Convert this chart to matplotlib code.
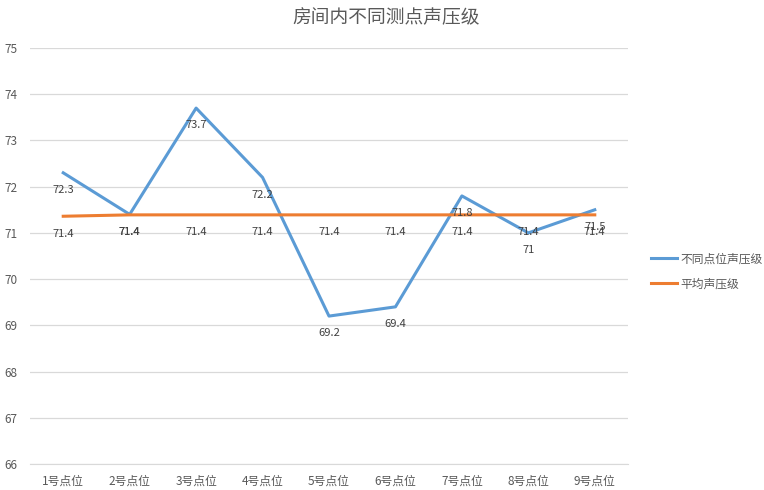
import numpy as np
import matplotlib.pyplot as plt

plt.rcParams['font.family'] = ['Noto Sans CJK SC', 'DejaVu Sans']

categories = ['1号点位', '2号点位', '3号点位', '4号点位', '5号点位',
              '6号点位', '7号点位', '8号点位', '9号点位']
point_spl = [72.3, 71.4, 73.7, 72.2, 69.2, 69.4, 71.8, 71.0, 71.5]
mean_spl = [71.36, 71.39, 71.39, 71.39, 71.39, 71.39, 71.39, 71.39, 71.39]
y_ticks = [66, 67, 68, 69, 70, 71, 72, 73, 74, 75]

blue = '#5B9BD5'
orange = '#ED7D31'
text_col = '#595959'

fig = plt.figure(figsize=(7.64, 4.90), dpi=100)
ax = fig.add_axes([30 / 764, 1 - 464 / 490, 598 / 764, 416 / 490])

x = np.arange(len(categories))
ax.plot(x, point_spl, color=blue, lw=2.2, label='不同点位声压级', solid_joinstyle='round')
ax.plot(x, mean_spl, color=orange, lw=2.2, label='平均声压级', solid_joinstyle='round')

def fmt(v):
    s = f'{v:.1f}'
    return s[:-2] if s.endswith('.0') else s

# data labels sit just below each point, Excel style
for series in (point_spl, mean_spl):
    for xi, v in zip(x, series):
        ax.annotate(fmt(v), (xi, v), xytext=(0, -12.5), textcoords='offset points',
                    ha='center', va='center', fontsize=8, color='#404040')

ax.set_xlim(-0.5, len(categories) - 0.5)
ax.set_ylim(66, 75)
ax.set_yticks(y_ticks)
ax.set_xticks(x)
ax.set_xticklabels(categories)
ax.grid(axis='y', color='#D9D9D9', lw=0.9)
ax.set_axisbelow(True)
for s in ['top', 'right', 'left']:
    ax.spines[s].set_visible(False)
ax.spines['bottom'].set_color('#D9D9D9')
ax.tick_params(axis='both', length=0, colors=text_col, labelsize=8.5)
ax.tick_params(axis='x', pad=8)
ax.tick_params(axis='y', pad=9)

fig.suptitle('房间内不同测点声压级', x=386 / 764, y=1 - 18 / 490, va='center',
             fontsize=13.5, color=text_col)

leg = fig.legend(loc='upper left', bbox_to_anchor=(640 / 764, 1 - 242 / 490),
                 frameon=False, fontsize=8.5, handlelength=2.2, handletextpad=0.3,
                 labelspacing=1.0, labelcolor=text_col)

fig.savefig('out.png', dpi=100)
